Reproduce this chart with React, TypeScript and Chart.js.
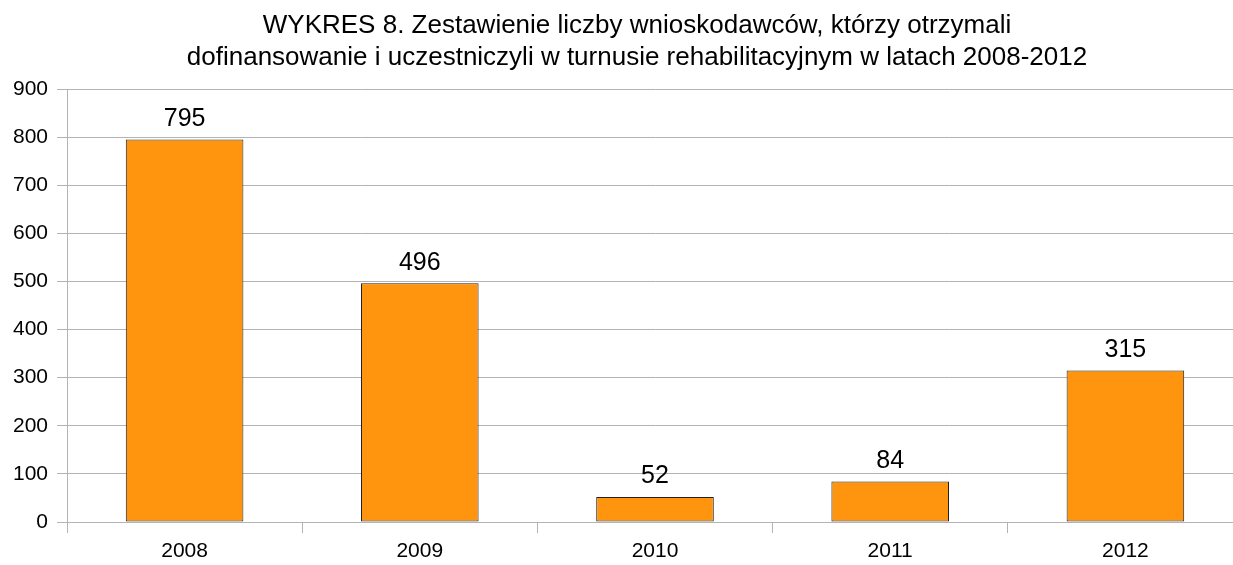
import React, { useEffect, useRef } from "react";
import { Chart, registerables } from "chart.js";

Chart.register(...registerables);

const categories = ["2008", "2009", "2010", "2011", "2012"];
const values = [795, 496, 52, 84, 315];
const titleLines = [
  "WYKRES 8. Zestawienie liczby wnioskodawców, którzy otrzymali",
  "dofinansowanie i uczestniczyli w turnusie rehabilitacyjnym w latach 2008-2012",
];
const yMin = 0;
const yMax = 900;
const yStep = 100;

const FONT = "'Liberation Sans', Arial, sans-serif";

const valueLabels = {
  id: "valueLabels",
  afterDatasetsDraw(chart: any) {
    const ctx = chart.ctx;
    const meta = chart.getDatasetMeta(0);
    ctx.save();
    ctx.fillStyle = "#000";
    ctx.font = `25px ${FONT}`;
    ctx.textAlign = "center";
    ctx.textBaseline = "bottom";
    meta.data.forEach((bar: any, i: number) => {
      ctx.fillText(String(chart.data.datasets[0].data[i]), bar.x, bar.y - 8);
    });
    ctx.restore();
  },
};

export default function App() {
  const ref = useRef<HTMLCanvasElement>(null);
  useEffect(() => {
    document.documentElement.style.overflow = "hidden";
    document.body.style.overflow = "hidden";
    const chart = new Chart(ref.current!, {
      type: "bar",
      data: {
        labels: categories,
        datasets: [
          {
            data: values,
            backgroundColor: "#ff950e",
            borderColor: "#222222",
            borderWidth: 1,
            borderSkipped: false,
            barPercentage: 0.5,
            categoryPercentage: 1,
          },
        ],
      },
      options: {
        animation: false,
        responsive: false,
        layout: { padding: { left: 0, right: 0, top: 0, bottom: 0 } },
        plugins: {
          legend: { display: false },
          tooltip: { enabled: false },
          title: {
            display: true,
            text: titleLines,
            color: "#000",
            font: { family: FONT, size: 26, weight: "normal", lineHeight: "32px" },
            padding: { top: 10, bottom: 15 },
          },
        },
        scales: {
          x: {
            afterFit: (scale: any) => {
              scale.height = 43;
            },
            grid: {
              offset: true,
              drawOnChartArea: false,
              drawTicks: true,
              tickLength: 11,
              color: "#b3b3b3",
            },
            border: { display: true, color: "#b3b3b3" },
            ticks: { color: "#000", font: { family: FONT, size: 21 }, padding: 6 },
          },
          y: {
            min: yMin,
            max: yMax,
            afterFit: (scale: any) => {
              scale.width = 67;
            },
            ticks: {
              stepSize: yStep,
              color: "#000",
              font: { family: FONT, size: 21 },
              padding: 9,
            },
            grid: { color: "#b3b3b3", tickLength: 10, drawTicks: true },
            border: { display: true, color: "#b3b3b3" },
          },
          spacer: {
            type: "linear",
            position: "right",
            display: true,
            afterFit: (scale: any) => {
              scale.width = 31;
            },
            grid: { display: false, drawTicks: false },
            ticks: { display: false },
            border: { display: false },
          },
        },
      },
      plugins: [valueLabels],
    });
    return () => chart.destroy();
  }, []);
  return (
    <div style={{ position: "absolute", left: 0, top: 0, width: 1274, height: 565, overflow: "hidden" }}>
      <canvas ref={ref} width={1274} height={565} style={{ display: "block" }} />
    </div>
  );
}
